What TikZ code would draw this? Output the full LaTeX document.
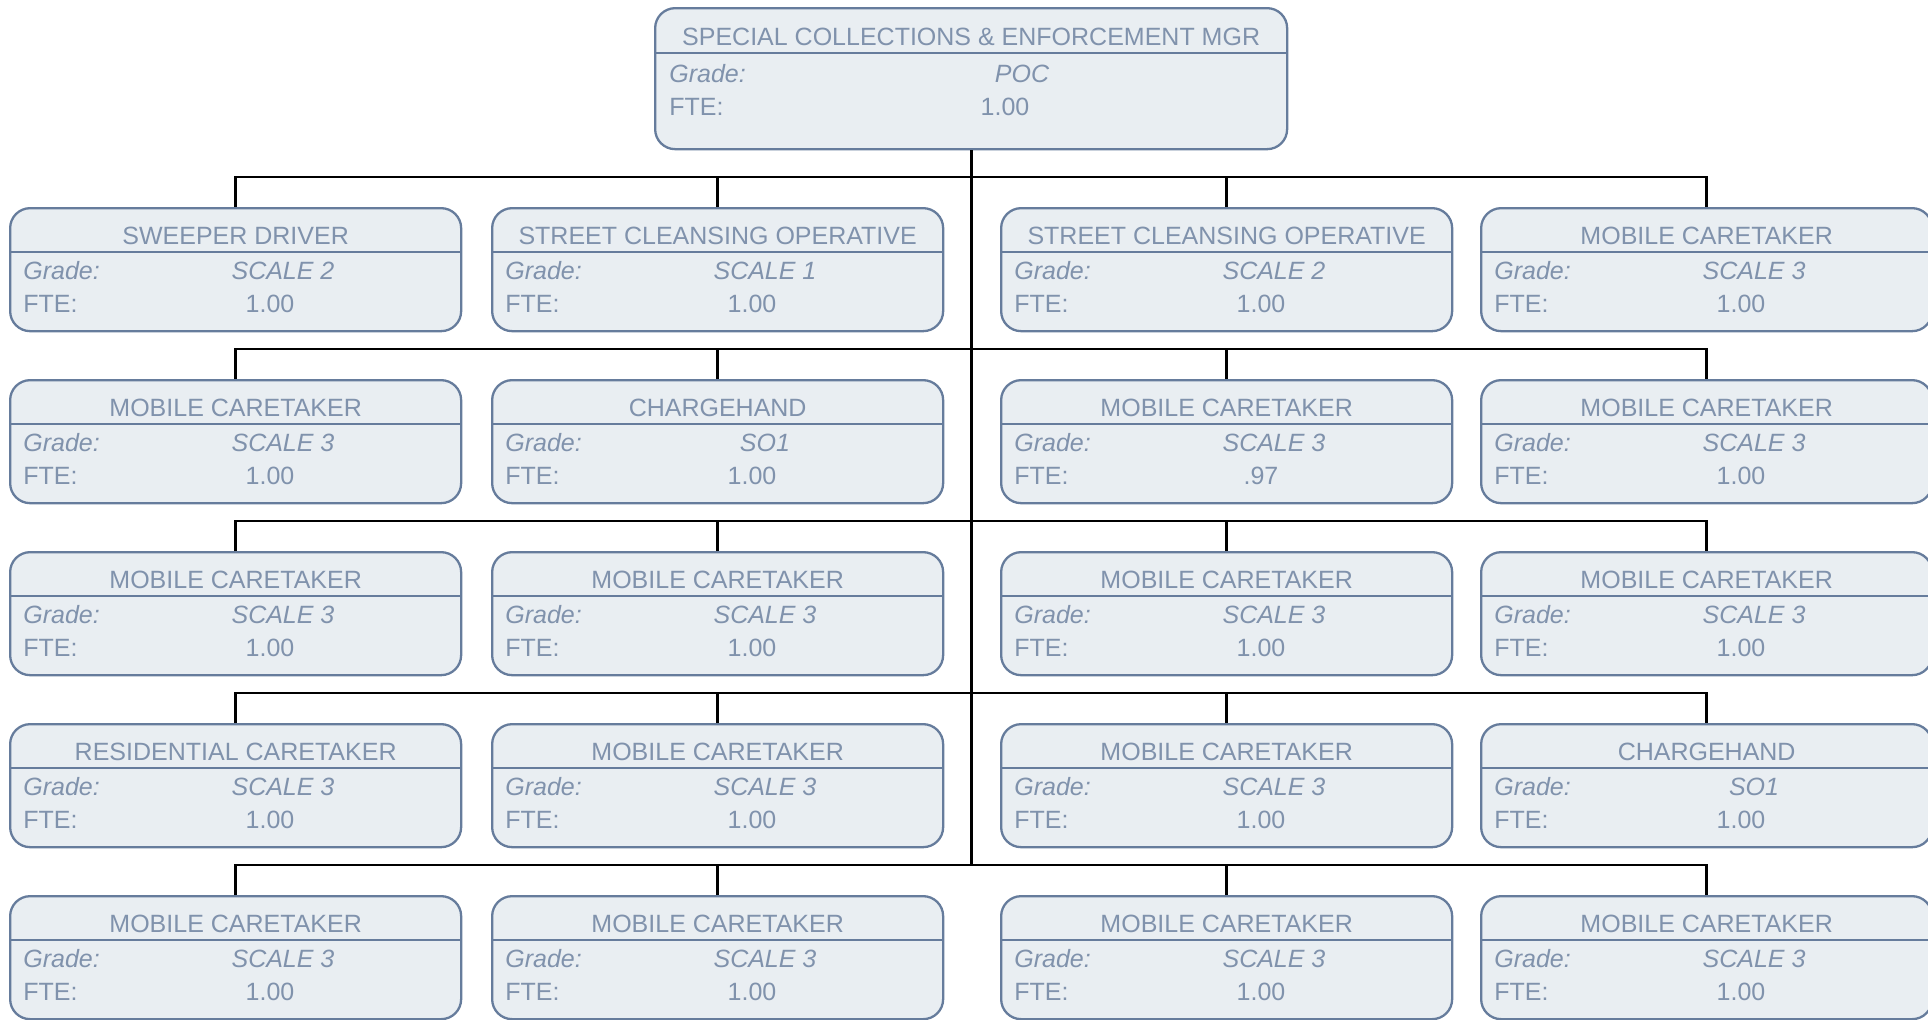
\documentclass[tikz,border=0pt]{standalone}
\usepackage{fontspec}
\setmainfont{Liberation Sans}
\usetikzlibrary{calc}
\definecolor{boxfill}{RGB}{233,238,242}
\definecolor{boxline}{RGB}{102,124,156}
\definecolor{boxtext}{RGB}{128,146,172}

\begin{document}
\begin{tikzpicture}[x=0.5pt, y=-0.5pt, font=\fontsize{12.5}{15}\selectfont,
  post/.style={draw=boxline, fill=boxfill, line width=1.15pt, rounded corners=10pt,
    inner sep=0pt, anchor=north west},
  rule/.style={draw=boxline, line width=1.15pt},
  txt/.style={text=boxtext, inner sep=0pt},
  wire/.style={draw=black, line width=1.35pt}]
  \useasboundingbox (0,0) rectangle (1928,1019);

  % manager
  \node[post, minimum width=316pt, minimum height=70.5pt] (boss) at (654,7) {};
  \draw[rule] ($(boss.north west)+(0,46)$) -- ($(boss.north east)+(0,46)$);
  \node[txt, anchor=base] at ($(boss.north)+(0,38)$) {SPECIAL COLLECTIONS \& ENFORCEMENT MGR};
  \node[txt, anchor=base west, font=\fontsize{12.5}{15}\selectfont\itshape]
    at ($(boss.north west)+(15,75)$) {Grade:};
  \node[txt, anchor=base, font=\fontsize{12.5}{15}\selectfont\itshape]
    at ($(boss.north west)+(368,75)$) {POC};
  \node[txt, anchor=base west] at ($(boss.north west)+(15,108)$) {FTE:};
  \node[txt, anchor=base] at ($(boss.north west)+(351,108)$) {1.00};

  % staff posts
  \foreach \r/\c/\ttl/\grd/\fte in {
      1/1/SWEEPER DRIVER/SCALE 2/1.00,
      1/2/STREET CLEANSING OPERATIVE/SCALE 1/1.00,
      1/3/STREET CLEANSING OPERATIVE/SCALE 2/1.00,
      1/4/MOBILE CARETAKER/SCALE 3/1.00,
      2/1/MOBILE CARETAKER/SCALE 3/1.00,
      2/2/CHARGEHAND/SO1/1.00,
      2/3/MOBILE CARETAKER/SCALE 3/.97,
      2/4/MOBILE CARETAKER/SCALE 3/1.00,
      3/1/MOBILE CARETAKER/SCALE 3/1.00,
      3/2/MOBILE CARETAKER/SCALE 3/1.00,
      3/3/MOBILE CARETAKER/SCALE 3/1.00,
      3/4/MOBILE CARETAKER/SCALE 3/1.00,
      4/1/RESIDENTIAL CARETAKER/SCALE 3/1.00,
      4/2/MOBILE CARETAKER/SCALE 3/1.00,
      4/3/MOBILE CARETAKER/SCALE 3/1.00,
      4/4/CHARGEHAND/SO1/1.00,
      5/1/MOBILE CARETAKER/SCALE 3/1.00,
      5/2/MOBILE CARETAKER/SCALE 3/1.00,
      5/3/MOBILE CARETAKER/SCALE 3/1.00,
      5/4/MOBILE CARETAKER/SCALE 3/1.00} {
    \pgfmathsetmacro{\bx}{{9,491,1000,1480}[\c-1]}
    \pgfmathsetmacro{\by}{207+(\r-1)*172}
    \node[post, minimum width=225.5pt, minimum height=61.5pt] (c\r\c) at (\bx,\by) {};
    \draw[rule] ($(c\r\c.north west)+(0,45)$) -- ($(c\r\c.north east)+(0,45)$);
    \node[txt, anchor=base] at ($(c\r\c.north)+(0,37)$) {\ttl};
    \node[txt, anchor=base west, font=\fontsize{12.5}{15}\selectfont\itshape]
      at ($(c\r\c.north west)+(14,72)$) {Grade:};
    \node[txt, anchor=base, font=\fontsize{12.5}{15}\selectfont\itshape]
      at ($(c\r\c.north west)+(274,72)$) {\grd};
    \node[txt, anchor=base west] at ($(c\r\c.north west)+(14,105)$) {FTE:};
    \node[txt, anchor=base] at ($(c\r\c.north west)+(261,105)$) {\fte};
  }

  % reporting lines
  \draw[wire] (boss.south) -- ($(boss.south |- c51.north)+(0,-30)$);
  \foreach \r in {1,...,5} {
    \draw[wire] (c\r1.north) -- ++(0,-30) -| (c\r4.north);
    \draw[wire] (c\r2.north) -- ++(0,-30);
    \draw[wire] (c\r3.north) -- ++(0,-30);
  }
\end{tikzpicture}
\end{document}
